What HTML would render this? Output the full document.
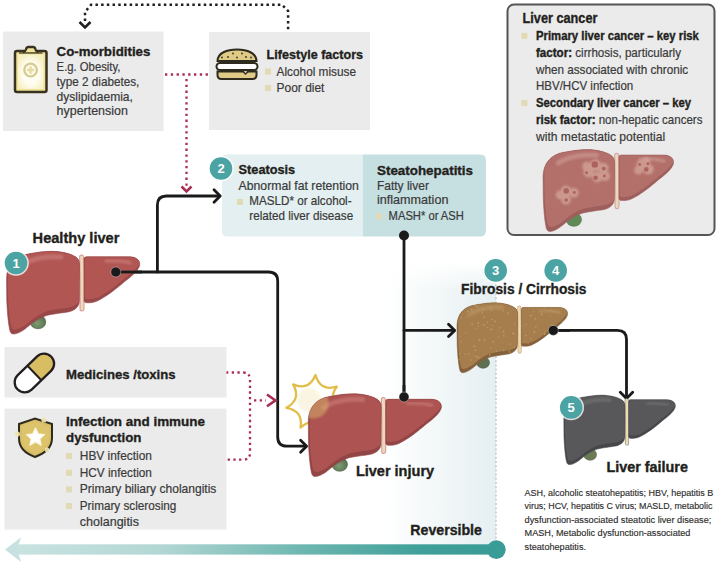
<!DOCTYPE html><html><head><meta charset="utf-8"><style>html,body{margin:0;padding:0;background:#fff;width:720px;height:573px;overflow:hidden}svg text{font-family:"Liberation Sans",sans-serif}</style></head><body><svg width="720" height="573" viewBox="0 0 720 573" style="display:block;font-family:'Liberation Sans',sans-serif">
<defs><linearGradient id="panel" x1="0" y1="0" x2="1" y2="0"><stop offset="0" stop-color="#ffffff"/><stop offset="1" stop-color="#e5eff1"/></linearGradient><linearGradient id="bar" x1="0" y1="0" x2="1" y2="0"><stop offset="0" stop-color="#c9e3e1"/><stop offset="0.3" stop-color="#b3d7d4"/><stop offset="0.6" stop-color="#6db6b0"/><stop offset="0.85" stop-color="#3f9f99"/><stop offset="1" stop-color="#3a9c96"/></linearGradient><filter id="blur" x="-50%" y="-50%" width="200%" height="200%"><feGaussianBlur stdDeviation="1.2"/></filter><radialGradient id="clipg" cx="0.5" cy="0.55" r="0.6"><stop offset="0.5" stop-color="#fffdf2"/><stop offset="1" stop-color="#f6efbf"/></radialGradient><radialGradient id="gbg" cx="0.45" cy="0.6" r="0.6"><stop offset="0" stop-color="#7d9c72"/><stop offset="1" stop-color="#566f4c"/></radialGradient><linearGradient id="pm" x1="0" y1="0" x2="0" y2="1"><stop offset="0" stop-color="#000"/><stop offset="0.1" stop-color="#fff"/><stop offset="1" stop-color="#fff"/></linearGradient><mask id="pmask" maskUnits="userSpaceOnUse" x="380" y="255" width="130" height="300"><rect x="380" y="262" width="130" height="290" fill="url(#pm)"/></mask></defs>
<rect width="720" height="573" fill="#ffffff"/>
<rect x="385" y="262" width="111" height="283" fill="url(#panel)" mask="url(#pmask)"/>
<line x1="496" y1="272" x2="496" y2="545" stroke="#bcc8cc" stroke-width="1.4" stroke-dasharray="2 2.2"/>
<rect x="3" y="31.5" width="160.5" height="99.5" fill="#ebebeb"/>
<rect x="209" y="32" width="161" height="98" fill="#ebebeb"/>
<path d="M85,21 L85,12 L91,4.8 L282,4.8 L288.1,11 L288.1,31" stroke="#231f20" stroke-width="2.5" fill="none" stroke-dasharray="2.5 3.2"/>
<path d="M79.5,22 L85,27.5 L90.5,22" stroke="#231f20" stroke-width="2.6" fill="none"/>
<path d="M165,74.5 L209,74.5" stroke="#aa2c52" stroke-width="2.3" fill="none" stroke-dasharray="2.3 3.5"/>
<path d="M186.5,79 L186.5,188" stroke="#aa2c52" stroke-width="2.3" fill="none" stroke-dasharray="2.3 3.5"/>
<path d="M181.5,186.5 L186.5,191.5 L191.5,186.5" stroke="#aa2c52" stroke-width="2.5" fill="none"/>
<g><rect x="15" y="51" width="31.5" height="41" rx="2" fill="#efe39a" stroke="#38321f" stroke-width="2.5"/><rect x="18" y="54.5" width="25.5" height="34.5" fill="url(#clipg)"/><path d="M23,52 Q25.5,51.5 26,49.5 Q26.3,47 28.5,47 L33,47 Q35.2,47 35.5,49.5 Q36,51.5 38.5,52" fill="#efe39a" stroke="#38321f" stroke-width="2.3" stroke-linejoin="round"/><path d="M19,53 L42.5,53" stroke="#38321f" stroke-width="1.2"/><circle cx="30.6" cy="70" r="6.3" fill="none" stroke="#d6cc92" stroke-width="2.3"/><path d="M30.6,66.3 L30.6,73.7 M26.9,70 L34.3,70" stroke="#e6dca0" stroke-width="2.4"/></g>
<text x="56.6" y="55.7" font-size="13.60" font-weight="bold" fill="#231f20" stroke="#231f20" stroke-width="0.35" textLength="93.8" lengthAdjust="spacingAndGlyphs">Co-morbidities</text>
<text x="56.6" y="71.1" font-size="11.90" font-weight="normal" fill="#3a3a3a" stroke="#3a3a3a" stroke-width="0.2" textLength="63.8" lengthAdjust="spacingAndGlyphs">E.g. Obesity,</text>
<text x="56.6" y="86.1" font-size="11.90" font-weight="normal" fill="#3a3a3a" stroke="#3a3a3a" stroke-width="0.2" textLength="82.8" lengthAdjust="spacingAndGlyphs">type 2 diabetes,</text>
<text x="56.6" y="101.1" font-size="11.90" font-weight="normal" fill="#3a3a3a" stroke="#3a3a3a" stroke-width="0.2" textLength="76.3" lengthAdjust="spacingAndGlyphs">dyslipidaemia,</text>
<text x="56.6" y="114.5" font-size="11.90" font-weight="normal" fill="#3a3a3a" stroke="#3a3a3a" stroke-width="0.2" textLength="71.3" lengthAdjust="spacingAndGlyphs">hypertension</text>
<g stroke="#2f2a1e" stroke-width="2"><path d="M217.5,61 C217.5,53 227,49.5 237,49.5 C247,49.5 256.5,53 256.5,61 Z" fill="#dfcb86"/><rect x="216.5" y="63" width="41" height="7" rx="3.5" fill="#ffffff"/><path d="M217.5,71.5 L256.5,71.5 L256.5,75 Q256.5,79 252.5,79 L221.5,79 Q217.5,79 217.5,75 Z" fill="#dfcb86"/><path d="M242,70.5 L245.5,74 L249,70.5 Z" fill="#ffffff" stroke-width="1.5"/></g><g fill="#3a3322"><circle cx="222" cy="57.5" r="0.9"/><circle cx="228" cy="57" r="0.9"/><circle cx="233" cy="53.5" r="0.9"/><circle cx="237" cy="57.5" r="0.9"/><circle cx="242" cy="53.5" r="0.9"/><circle cx="246" cy="57" r="0.9"/><circle cx="251" cy="57.5" r="0.9"/></g>
<text x="266.6" y="58.9" font-size="13.60" font-weight="bold" fill="#231f20" stroke="#231f20" stroke-width="0.35" textLength="96.5" lengthAdjust="spacingAndGlyphs">Lifestyle factors</text>
<rect x="265" y="68.5" width="6" height="6" fill="#e2dab4"/>
<text x="276.6" y="76.3" font-size="11.90" font-weight="normal" fill="#3a3a3a" stroke="#3a3a3a" stroke-width="0.2" textLength="79.4" lengthAdjust="spacingAndGlyphs">Alcohol misuse</text>
<rect x="265" y="85" width="6" height="6" fill="#e2dab4"/>
<text x="276.6" y="92.2" font-size="11.90" font-weight="normal" fill="#3a3a3a" stroke="#3a3a3a" stroke-width="0.2" textLength="47.8" lengthAdjust="spacingAndGlyphs">Poor diet</text>
<rect x="507.5" y="4.5" width="207" height="230.5" rx="6.5" fill="#ebebeb" stroke="#555555" stroke-width="2"/>
<text x="522.6" y="22.5" font-size="13.80" font-weight="bold" fill="#231f20" stroke="#231f20" stroke-width="0.35" textLength="74.8" lengthAdjust="spacingAndGlyphs">Liver cancer</text>
<rect x="521.4" y="32.8" width="6" height="6" fill="#e2dab4"/>
<text x="536.0" y="40.0" font-size="11.90" font-weight="bold" fill="#231f20" stroke="#231f20" stroke-width="0.35" textLength="162.9" lengthAdjust="spacingAndGlyphs">Primary liver cancer – key risk</text>
<text x="536.0" y="57.0" font-size="11.9" fill="#3a3a3a" stroke="#3a3a3a" stroke-width="0.2" textLength="145" lengthAdjust="spacingAndGlyphs"><tspan font-weight="bold" fill="#231f20" stroke="#231f20" stroke-width="0.35">factor:</tspan> cirrhosis, particularly</text>
<text x="536.0" y="73.5" font-size="11.90" font-weight="normal" fill="#3a3a3a" stroke="#3a3a3a" stroke-width="0.2" textLength="152.1" lengthAdjust="spacingAndGlyphs">when associated with chronic</text>
<text x="536.0" y="89.9" font-size="11.90" font-weight="normal" fill="#3a3a3a" stroke="#3a3a3a" stroke-width="0.2" textLength="97.2" lengthAdjust="spacingAndGlyphs">HBV/HCV infection</text>
<rect x="521.4" y="100" width="6" height="6" fill="#e2dab4"/>
<text x="536.0" y="107.2" font-size="11.90" font-weight="bold" fill="#231f20" stroke="#231f20" stroke-width="0.35" textLength="155.1" lengthAdjust="spacingAndGlyphs">Secondary liver cancer – key</text>
<text x="536.0" y="124.3" font-size="11.9" fill="#3a3a3a" stroke="#3a3a3a" stroke-width="0.2" textLength="166.4" lengthAdjust="spacingAndGlyphs"><tspan font-weight="bold" fill="#231f20" stroke="#231f20" stroke-width="0.35">risk factor:</tspan> non-hepatic cancers</text>
<text x="536.0" y="140.6" font-size="11.90" font-weight="normal" fill="#3a3a3a" stroke="#3a3a3a" stroke-width="0.2" textLength="129.1" lengthAdjust="spacingAndGlyphs">with metastatic potential</text>
<g transform="translate(542.5,149.3) scale(0.98,0.99)">
<clipPath id="cr1"><path d="M0.6,27 C0.8,15 8,5 22,3 C30,1.5 38,0.3 45,0.3 C56,0.3 66,3 70.5,6.5 C73,8.5 73.5,11 73.5,14 L73.3,50 C73.3,55 70,59 63,60.8 C56,62 46,63 40.5,64.5 C33,67 27,71 22,75.5 C18,79 12,83 7.5,83 C5,83 4,81 3.5,78 C2,70 1.2,60 0.8,50 Z"/></clipPath><clipPath id="cl1"><path d="M78,8 C78,6.5 79,5.8 80.5,5.8 L124,5.8 C131,6 134.5,10 133.6,14.5 C132,20 126,25 118,31 C110,38 100,46 90,50.5 C86,52 82,52 79.5,51.6 C78.5,51.4 78,50.5 78,49 Z"/></clipPath>
<ellipse cx="32" cy="71" rx="8" ry="7" fill="#5f8a58" stroke="#000" stroke-opacity="0.15" stroke-width="1"/>
<path d="M75.6,6 C76.2,20 76.2,40 76,58" stroke="#b3706b" stroke-width="5" fill="none" stroke-linecap="round" opacity="0.6"/>
<path d="M75.6,6 C76.2,20 76.2,40 76,58" stroke="#eed8bb" stroke-width="3" fill="none" stroke-linecap="round"/>
<path d="M0.6,27 C0.8,15 8,5 22,3 C30,1.5 38,0.3 45,0.3 C56,0.3 66,3 70.5,6.5 C73,8.5 73.5,11 73.5,14 L73.3,50 C73.3,55 70,59 63,60.8 C56,62 46,63 40.5,64.5 C33,67 27,71 22,75.5 C18,79 12,83 7.5,83 C5,83 4,81 3.5,78 C2,70 1.2,60 0.8,50 Z" fill="#9e5f5c"/><path d="M78,8 C78,6.5 79,5.8 80.5,5.8 L124,5.8 C131,6 134.5,10 133.6,14.5 C132,20 126,25 118,31 C110,38 100,46 90,50.5 C86,52 82,52 79.5,51.6 C78.5,51.4 78,50.5 78,49 Z" fill="#9e5f5c"/>
<g clip-path="url(#cr1)"><path d="M0.6,27 C0.8,15 8,5 22,3 C30,1.5 38,0.3 45,0.3 C56,0.3 66,3 70.5,6.5 C73,8.5 73.5,11 73.5,14 L73.3,50 C73.3,55 70,59 63,60.8 C56,62 46,63 40.5,64.5 C33,67 27,71 22,75.5 C18,79 12,83 7.5,83 C5,83 4,81 3.5,78 C2,70 1.2,60 0.8,50 Z" fill="#b3706b" transform="translate(1.2,-4.5)"/><path d="M16,14 C28,6 45,5 55,6" stroke="#d4a09a" stroke-width="5" fill="none" stroke-linecap="round" opacity="0.55" filter="url(#blur)"/></g>
<g clip-path="url(#cl1)"><path d="M78,8 C78,6.5 79,5.8 80.5,5.8 L124,5.8 C131,6 134.5,10 133.6,14.5 C132,20 126,25 118,31 C110,38 100,46 90,50.5 C86,52 82,52 79.5,51.6 C78.5,51.4 78,50.5 78,49 Z" fill="#b3706b" transform="translate(0.5,-3.5)"/><path d="M100,10 C110,9.5 118,10 124,12" stroke="#d4a09a" stroke-width="3.5" fill="none" stroke-linecap="round" opacity="0.55" filter="url(#blur)"/></g>
<path d="M0.6,27 C0.8,15 8,5 22,3 C30,1.5 38,0.3 45,0.3 C56,0.3 66,3 70.5,6.5 C73,8.5 73.5,11 73.5,14 L73.3,50 C73.3,55 70,59 63,60.8 C56,62 46,63 40.5,64.5 C33,67 27,71 22,75.5 C18,79 12,83 7.5,83 C5,83 4,81 3.5,78 C2,70 1.2,60 0.8,50 Z" fill="none" stroke="#9e5f5c" stroke-width="1" stroke-opacity="0.6"/><path d="M78,8 C78,6.5 79,5.8 80.5,5.8 L124,5.8 C131,6 134.5,10 133.6,14.5 C132,20 126,25 118,31 C110,38 100,46 90,50.5 C86,52 82,52 79.5,51.6 C78.5,51.4 78,50.5 78,49 Z" fill="none" stroke="#9e5f5c" stroke-width="1" stroke-opacity="0.6"/>

<g filter="url(#blur)"><g fill="#d2a398" opacity="0.8"><circle cx="54" cy="16" r="6"/><circle cx="62" cy="19" r="5.5"/><circle cx="47" cy="23" r="5.5"/><circle cx="56" cy="28" r="5.5"/><circle cx="64" cy="27" r="5"/><circle cx="45" cy="17" r="4.5"/><circle cx="24" cy="42" r="5.5"/><circle cx="32" cy="44" r="5"/><circle cx="24" cy="51" r="5"/><circle cx="18" cy="46" r="4.5"/><circle cx="101" cy="15" r="5"/><circle cx="108" cy="20" r="5.5"/><circle cx="98" cy="21" r="4.5"/><circle cx="106" cy="12" r="4"/></g></g><g fill="#a65553" opacity="0.8"><circle cx="53.4" cy="15.4" r="3.3"/><circle cx="62.5" cy="19.5" r="2"/><circle cx="54.2" cy="28.7" r="2.3"/><circle cx="45" cy="23.7" r="1.5"/><circle cx="63.2" cy="27" r="1.5"/><circle cx="24.2" cy="42" r="2.8"/><circle cx="32.5" cy="43.7" r="1.5"/><circle cx="24.2" cy="51.2" r="1.8"/><circle cx="105.9" cy="20.4" r="2.4"/><circle cx="99.2" cy="15.4" r="1.5"/><circle cx="107.5" cy="14.5" r="1.5"/></g>
</g>
<path d="M227,154.5 L363,154.5 L363,236.5 L227,236.5 Q222,236.5 222,231.5 L222,159.5 Q222,154.5 227,154.5 Z" fill="#e3eff0"/>
<path d="M363,154.5 L480,154.5 Q486,154.5 486,160.5 L486,230.5 Q486,236.5 480,236.5 L363,236.5 Z" fill="#c6dfe1"/>
<circle cx="221" cy="168.5" r="12.8" fill="#ffffff" opacity="0.8"/>
<circle cx="221" cy="168.5" r="11.3" fill="#4ba3a3"/>
<text x="221" y="173.1" font-size="13" font-weight="bold" fill="#ffffff" text-anchor="middle">2</text>
<text x="238.6" y="174.4" font-size="13.60" font-weight="bold" fill="#231f20" stroke="#231f20" stroke-width="0.35" textLength="56.6" lengthAdjust="spacingAndGlyphs">Steatosis</text>
<text x="238.6" y="189.7" font-size="11.90" font-weight="normal" fill="#3a3a3a" stroke="#3a3a3a" stroke-width="0.2" textLength="120.3" lengthAdjust="spacingAndGlyphs">Abnormal fat retention</text>
<rect x="237" y="199" width="6" height="6" fill="#e2dab4"/>
<text x="249.3" y="205.3" font-size="11.90" font-weight="normal" fill="#3a3a3a" stroke="#3a3a3a" stroke-width="0.2" textLength="102.3" lengthAdjust="spacingAndGlyphs">MASLD* or alcohol-</text>
<text x="249.3" y="220.2" font-size="11.90" font-weight="normal" fill="#3a3a3a" stroke="#3a3a3a" stroke-width="0.2" textLength="103.9" lengthAdjust="spacingAndGlyphs">related liver disease</text>
<text x="377.0" y="174.7" font-size="13.60" font-weight="bold" fill="#231f20" stroke="#231f20" stroke-width="0.35" textLength="96.0" lengthAdjust="spacingAndGlyphs">Steatohepatitis</text>
<text x="377.0" y="190.2" font-size="11.90" font-weight="normal" fill="#3a3a3a" stroke="#3a3a3a" stroke-width="0.2" textLength="51.9" lengthAdjust="spacingAndGlyphs">Fatty liver</text>
<text x="377.0" y="204.3" font-size="11.90" font-weight="normal" fill="#3a3a3a" stroke="#3a3a3a" stroke-width="0.2" textLength="71.4" lengthAdjust="spacingAndGlyphs">inflammation</text>
<rect x="376" y="213.5" width="6" height="6" fill="#e2dab4"/>
<text x="388.6" y="220.3" font-size="11.90" font-weight="normal" fill="#3a3a3a" stroke="#3a3a3a" stroke-width="0.2" textLength="75.3" lengthAdjust="spacingAndGlyphs">MASH* or ASH</text>
<path d="M116.7,272 L268.5,272 Q277.7,272 277.7,281 L277.7,437 Q277.7,446.2 287,446.2 L305.5,446.2" stroke="#1a1a1a" stroke-width="2.8" fill="none" stroke-linejoin="round" stroke-linecap="round"/>
<path d="M300.6,440.2 L306.6,446.2 L300.6,452.2" stroke="#1a1a1a" stroke-width="2.8" fill="none" stroke-linejoin="round" stroke-linecap="round"/>
<path d="M157.4,272 L157.4,205 Q157.4,196 166.4,196 L219,196" stroke="#1a1a1a" stroke-width="2.8" fill="none" stroke-linejoin="round" stroke-linecap="round"/>
<path d="M214,189.8 L220.2,196 L214,202.2" stroke="#1a1a1a" stroke-width="2.8" fill="none" stroke-linejoin="round" stroke-linecap="round"/>
<path d="M404,236 L404,397" stroke="#1a1a1a" stroke-width="2.8" fill="none" stroke-linejoin="round" stroke-linecap="round"/>
<circle cx="404" cy="235.5" r="5" fill="#1a1a1a"/>
<path d="M404,330.4 L454,330.4" stroke="#1a1a1a" stroke-width="2.8" fill="none" stroke-linejoin="round" stroke-linecap="round"/>
<path d="M448.5,324.2 L454.7,330.4 L448.5,336.6" stroke="#1a1a1a" stroke-width="2.8" fill="none" stroke-linejoin="round" stroke-linecap="round"/>
<path d="M553,330.4 L617.5,330.4 Q626.5,330.4 626.5,339.4 L626.5,398" stroke="#1a1a1a" stroke-width="2.8" fill="none" stroke-linejoin="round" stroke-linecap="round"/>
<path d="M620.3,392.3 L626.5,398.5 L632.7,392.3" stroke="#1a1a1a" stroke-width="2.8" fill="none" stroke-linejoin="round" stroke-linecap="round"/>
<path d="M226,372.5 L243,372.5 Q250,372.5 250,379.5 L250,452.7 Q250,459.7 243,459.7 L226,459.7" stroke="#aa2c52" stroke-width="2.3" fill="none" stroke-dasharray="2.3 3.4"/>
<path d="M254,400.4 L266,400.4" stroke="#aa2c52" stroke-width="2.3" fill="none" stroke-dasharray="2.3 3.4"/>
<path d="M267,394.5 L275.5,400.4 L267,406.3" stroke="#aa2c52" stroke-width="2.6" fill="none"/>
<text x="32.6" y="242.6" font-size="14.00" font-weight="bold" fill="#231f20" stroke="#231f20" stroke-width="0.35" textLength="86.8" lengthAdjust="spacingAndGlyphs">Healthy liver</text>
<g transform="translate(6,251) scale(1.0,1.0)">
<clipPath id="cr2"><path d="M0.6,27 C0.8,15 8,5 22,3 C30,1.5 38,0.3 45,0.3 C56,0.3 66,3 70.5,6.5 C73,8.5 73.5,11 73.5,14 L73.3,50 C73.3,55 70,59 63,60.8 C56,62 46,63 40.5,64.5 C33,67 27,71 22,75.5 C18,79 12,83 7.5,83 C5,83 4,81 3.5,78 C2,70 1.2,60 0.8,50 Z"/></clipPath><clipPath id="cl2"><path d="M78,8 C78,6.5 79,5.8 80.5,5.8 L124,5.8 C131,6 134.5,10 133.6,14.5 C132,20 126,25 118,31 C110,38 100,46 90,50.5 C86,52 82,52 79.5,51.6 C78.5,51.4 78,50.5 78,49 Z"/></clipPath>
<ellipse cx="32" cy="71" rx="8" ry="7" fill="url(#gbg)" stroke="#000" stroke-opacity="0.15" stroke-width="1"/>
<path d="M75.6,6 C76.2,20 76.2,40 76,58" stroke="#b25654" stroke-width="5" fill="none" stroke-linecap="round" opacity="0.6"/>
<path d="M75.6,6 C76.2,20 76.2,40 76,58" stroke="#eed8bb" stroke-width="3" fill="none" stroke-linecap="round"/>
<path d="M0.6,27 C0.8,15 8,5 22,3 C30,1.5 38,0.3 45,0.3 C56,0.3 66,3 70.5,6.5 C73,8.5 73.5,11 73.5,14 L73.3,50 C73.3,55 70,59 63,60.8 C56,62 46,63 40.5,64.5 C33,67 27,71 22,75.5 C18,79 12,83 7.5,83 C5,83 4,81 3.5,78 C2,70 1.2,60 0.8,50 Z" fill="#984848"/><path d="M78,8 C78,6.5 79,5.8 80.5,5.8 L124,5.8 C131,6 134.5,10 133.6,14.5 C132,20 126,25 118,31 C110,38 100,46 90,50.5 C86,52 82,52 79.5,51.6 C78.5,51.4 78,50.5 78,49 Z" fill="#984848"/>
<g clip-path="url(#cr2)"><path d="M0.6,27 C0.8,15 8,5 22,3 C30,1.5 38,0.3 45,0.3 C56,0.3 66,3 70.5,6.5 C73,8.5 73.5,11 73.5,14 L73.3,50 C73.3,55 70,59 63,60.8 C56,62 46,63 40.5,64.5 C33,67 27,71 22,75.5 C18,79 12,83 7.5,83 C5,83 4,81 3.5,78 C2,70 1.2,60 0.8,50 Z" fill="#b25654" transform="translate(1.2,-4.5)"/><path d="M16,14 C28,6 45,5 55,6" stroke="#d08884" stroke-width="5" fill="none" stroke-linecap="round" opacity="0.55" filter="url(#blur)"/></g>
<g clip-path="url(#cl2)"><path d="M78,8 C78,6.5 79,5.8 80.5,5.8 L124,5.8 C131,6 134.5,10 133.6,14.5 C132,20 126,25 118,31 C110,38 100,46 90,50.5 C86,52 82,52 79.5,51.6 C78.5,51.4 78,50.5 78,49 Z" fill="#b25654" transform="translate(0.5,-3.5)"/><path d="M100,10 C110,9.5 118,10 124,12" stroke="#d08884" stroke-width="3.5" fill="none" stroke-linecap="round" opacity="0.55" filter="url(#blur)"/></g>
<path d="M0.6,27 C0.8,15 8,5 22,3 C30,1.5 38,0.3 45,0.3 C56,0.3 66,3 70.5,6.5 C73,8.5 73.5,11 73.5,14 L73.3,50 C73.3,55 70,59 63,60.8 C56,62 46,63 40.5,64.5 C33,67 27,71 22,75.5 C18,79 12,83 7.5,83 C5,83 4,81 3.5,78 C2,70 1.2,60 0.8,50 Z" fill="none" stroke="#984848" stroke-width="1" stroke-opacity="0.6"/><path d="M78,8 C78,6.5 79,5.8 80.5,5.8 L124,5.8 C131,6 134.5,10 133.6,14.5 C132,20 126,25 118,31 C110,38 100,46 90,50.5 C86,52 82,52 79.5,51.6 C78.5,51.4 78,50.5 78,49 Z" fill="none" stroke="#984848" stroke-width="1" stroke-opacity="0.6"/>


</g>
<path d="M116,272 L142,272" stroke="#1a1a1a" stroke-width="2.8"/>
<circle cx="115.8" cy="272" r="5" fill="#1a1a1a" stroke="#ffffff" stroke-opacity="0.35" stroke-width="1"/>
<circle cx="16" cy="263" r="12.8" fill="#ffffff" opacity="0.8"/>
<circle cx="16" cy="263" r="11.3" fill="#4ba3a3"/>
<text x="16" y="267.6" font-size="13" font-weight="bold" fill="#ffffff" text-anchor="middle">1</text>
<circle cx="495.7" cy="270.4" r="12.8" fill="#ffffff" opacity="0.8"/>
<circle cx="495.7" cy="270.4" r="11.3" fill="#4ba3a3"/>
<text x="495.7" y="275.0" font-size="13" font-weight="bold" fill="#ffffff" text-anchor="middle">3</text>
<circle cx="555.7" cy="270.4" r="12.8" fill="#ffffff" opacity="0.8"/>
<circle cx="555.7" cy="270.4" r="11.3" fill="#4ba3a3"/>
<text x="555.7" y="275.0" font-size="13" font-weight="bold" fill="#ffffff" text-anchor="middle">4</text>
<text x="461.1" y="294.3" font-size="14.00" font-weight="bold" fill="#231f20" stroke="#231f20" stroke-width="0.35" textLength="125.3" lengthAdjust="spacingAndGlyphs">Fibrosis / Cirrhosis</text>
<g transform="translate(456.5,302.5) scale(0.831,0.846)">
<clipPath id="cr3"><path d="M0.6,27 C0.8,15 8,5 22,3 C30,1.5 38,0.3 45,0.3 C56,0.3 66,3 70.5,6.5 C73,8.5 73.5,11 73.5,14 L73.3,50 C73.3,55 70,59 63,60.8 C56,62 46,63 40.5,64.5 C33,67 27,71 22,75.5 C18,79 12,83 7.5,83 C5,83 4,81 3.5,78 C2,70 1.2,60 0.8,50 Z"/></clipPath><clipPath id="cl3"><path d="M78,8 C78,6.5 79,5.8 80.5,5.8 L124,5.8 C131,6 134.5,10 133.6,14.5 C132,20 126,25 118,31 C110,38 100,46 90,50.5 C86,52 82,52 79.5,51.6 C78.5,51.4 78,50.5 78,49 Z"/></clipPath>
<ellipse cx="32" cy="71" rx="8" ry="7" fill="#5f6f52" stroke="#000" stroke-opacity="0.15" stroke-width="1"/>
<path d="M75.6,6 C76.2,20 76.2,40 76,58" stroke="#a67e4d" stroke-width="5" fill="none" stroke-linecap="round" opacity="0.6"/>
<path d="M75.6,6 C76.2,20 76.2,40 76,58" stroke="#efd9aa" stroke-width="3" fill="none" stroke-linecap="round"/>
<path d="M0.6,27 C0.8,15 8,5 22,3 C30,1.5 38,0.3 45,0.3 C56,0.3 66,3 70.5,6.5 C73,8.5 73.5,11 73.5,14 L73.3,50 C73.3,55 70,59 63,60.8 C56,62 46,63 40.5,64.5 C33,67 27,71 22,75.5 C18,79 12,83 7.5,83 C5,83 4,81 3.5,78 C2,70 1.2,60 0.8,50 Z" fill="#84613a"/><path d="M78,8 C78,6.5 79,5.8 80.5,5.8 L124,5.8 C131,6 134.5,10 133.6,14.5 C132,20 126,25 118,31 C110,38 100,46 90,50.5 C86,52 82,52 79.5,51.6 C78.5,51.4 78,50.5 78,49 Z" fill="#84613a"/>
<g clip-path="url(#cr3)"><path d="M0.6,27 C0.8,15 8,5 22,3 C30,1.5 38,0.3 45,0.3 C56,0.3 66,3 70.5,6.5 C73,8.5 73.5,11 73.5,14 L73.3,50 C73.3,55 70,59 63,60.8 C56,62 46,63 40.5,64.5 C33,67 27,71 22,75.5 C18,79 12,83 7.5,83 C5,83 4,81 3.5,78 C2,70 1.2,60 0.8,50 Z" fill="#a67e4d" transform="translate(1.2,-4.5)"/><path d="M16,14 C28,6 45,5 55,6" stroke="#c09c6c" stroke-width="5" fill="none" stroke-linecap="round" opacity="0.55" filter="url(#blur)"/></g>
<g clip-path="url(#cl3)"><path d="M78,8 C78,6.5 79,5.8 80.5,5.8 L124,5.8 C131,6 134.5,10 133.6,14.5 C132,20 126,25 118,31 C110,38 100,46 90,50.5 C86,52 82,52 79.5,51.6 C78.5,51.4 78,50.5 78,49 Z" fill="#a67e4d" transform="translate(0.5,-3.5)"/><path d="M100,10 C110,9.5 118,10 124,12" stroke="#c09c6c" stroke-width="3.5" fill="none" stroke-linecap="round" opacity="0.55" filter="url(#blur)"/></g>
<path d="M0.6,27 C0.8,15 8,5 22,3 C30,1.5 38,0.3 45,0.3 C56,0.3 66,3 70.5,6.5 C73,8.5 73.5,11 73.5,14 L73.3,50 C73.3,55 70,59 63,60.8 C56,62 46,63 40.5,64.5 C33,67 27,71 22,75.5 C18,79 12,83 7.5,83 C5,83 4,81 3.5,78 C2,70 1.2,60 0.8,50 Z" fill="none" stroke="#84613a" stroke-width="1" stroke-opacity="0.6"/><path d="M78,8 C78,6.5 79,5.8 80.5,5.8 L124,5.8 C131,6 134.5,10 133.6,14.5 C132,20 126,25 118,31 C110,38 100,46 90,50.5 C86,52 82,52 79.5,51.6 C78.5,51.4 78,50.5 78,49 Z" fill="none" stroke="#84613a" stroke-width="1" stroke-opacity="0.6"/>

<g clip-path="url(#cr3)"><g fill="#c4a575" opacity="0.75"><circle cx="32.9" cy="44.9" r="0.7"/><circle cx="80.5" cy="51.2" r="0.5"/><circle cx="3.7" cy="67.5" r="0.7"/><circle cx="32.5" cy="79.7" r="0.8"/><circle cx="110.7" cy="39.7" r="0.9"/><circle cx="21.6" cy="51.9" r="1.0"/><circle cx="70.0" cy="60.1" r="0.9"/><circle cx="10.3" cy="61.4" r="0.9"/><circle cx="41.2" cy="5.4" r="1.0"/><circle cx="63.5" cy="58.3" r="1.0"/><circle cx="94.8" cy="73.9" r="0.7"/><circle cx="106.1" cy="37.2" r="1.1"/><circle cx="116.3" cy="10.5" r="0.6"/><circle cx="30.2" cy="77.3" r="0.8"/><circle cx="83.5" cy="26.2" r="0.8"/><circle cx="52.2" cy="30.0" r="0.9"/><circle cx="78.0" cy="72.6" r="0.9"/><circle cx="122.8" cy="68.9" r="1.1"/><circle cx="89.3" cy="15.6" r="1.0"/><circle cx="127.4" cy="72.7" r="0.8"/><circle cx="94.8" cy="19.3" r="1.0"/><circle cx="76.6" cy="24.9" r="0.5"/><circle cx="113.0" cy="79.2" r="0.6"/><circle cx="106.1" cy="34.6" r="0.6"/><circle cx="40.2" cy="62.2" r="1.0"/><circle cx="7.7" cy="50.3" r="0.5"/><circle cx="95.4" cy="28.5" r="1.0"/><circle cx="129.5" cy="41.9" r="1.1"/><circle cx="42.3" cy="8.9" r="0.9"/><circle cx="6.1" cy="18.2" r="0.7"/><circle cx="81.4" cy="15.0" r="0.5"/><circle cx="114.8" cy="27.2" r="1.1"/><circle cx="118.6" cy="32.1" r="0.8"/><circle cx="69.6" cy="52.6" r="0.9"/><circle cx="74.7" cy="50.7" r="1.1"/><circle cx="67.9" cy="36.2" r="0.9"/><circle cx="32.9" cy="26.2" r="1.1"/><circle cx="69.7" cy="45.2" r="0.5"/><circle cx="56.0" cy="47.7" r="0.5"/><circle cx="82.1" cy="51.7" r="0.5"/><circle cx="83.6" cy="38.9" r="0.9"/><circle cx="47.8" cy="57.4" r="0.9"/><circle cx="4.9" cy="7.7" r="0.9"/><circle cx="127.2" cy="22.3" r="0.8"/><circle cx="79.0" cy="27.6" r="0.7"/><circle cx="42.6" cy="31.4" r="0.9"/><circle cx="41.1" cy="32.0" r="1.0"/><circle cx="5.5" cy="46.8" r="0.9"/><circle cx="42.3" cy="20.1" r="1.0"/><circle cx="33.0" cy="17.4" r="0.8"/><circle cx="92.7" cy="10.8" r="0.7"/><circle cx="45.4" cy="67.2" r="0.8"/><circle cx="113.2" cy="16.0" r="0.7"/><circle cx="86.5" cy="71.1" r="0.8"/><circle cx="31.3" cy="12.3" r="0.8"/><circle cx="26.8" cy="65.1" r="1.0"/><circle cx="25.9" cy="24.5" r="1.0"/><circle cx="85.5" cy="65.1" r="0.7"/><circle cx="18.9" cy="25.5" r="1.0"/><circle cx="37.3" cy="29.7" r="0.8"/><circle cx="56.6" cy="34.5" r="1.1"/><circle cx="22.3" cy="3.4" r="1.1"/><circle cx="116.4" cy="79.0" r="0.8"/><circle cx="125.5" cy="74.4" r="0.6"/><circle cx="98.9" cy="67.4" r="0.9"/><circle cx="69.5" cy="25.3" r="0.7"/><circle cx="31.6" cy="8.2" r="0.9"/><circle cx="39.3" cy="65.4" r="0.5"/><circle cx="119.5" cy="56.4" r="1.1"/><circle cx="118.6" cy="72.3" r="0.8"/><circle cx="3.7" cy="60.4" r="0.6"/><circle cx="41.0" cy="54.0" r="0.8"/><circle cx="55.8" cy="75.3" r="0.9"/><circle cx="46.4" cy="22.4" r="1.0"/><circle cx="64.0" cy="63.2" r="0.7"/><circle cx="27.7" cy="44.2" r="1.0"/><circle cx="24.3" cy="64.0" r="1.1"/><circle cx="106.8" cy="66.4" r="0.5"/><circle cx="83.7" cy="69.4" r="0.5"/><circle cx="37.3" cy="23.7" r="0.8"/><circle cx="57.0" cy="39.4" r="1.0"/><circle cx="2.2" cy="7.2" r="0.6"/><circle cx="18.2" cy="8.3" r="1.1"/><circle cx="113.1" cy="9.6" r="0.8"/><circle cx="43.1" cy="27.2" r="0.7"/><circle cx="86.1" cy="48.2" r="0.7"/><circle cx="26.8" cy="28.3" r="0.6"/><circle cx="74.2" cy="58.1" r="0.7"/><circle cx="12.4" cy="16.7" r="0.7"/><circle cx="80.6" cy="63.3" r="0.7"/><circle cx="106.2" cy="51.0" r="0.8"/><circle cx="50.4" cy="41.2" r="0.9"/><circle cx="56.7" cy="56.4" r="0.8"/><circle cx="33.9" cy="44.3" r="0.9"/><circle cx="11.3" cy="35.7" r="0.8"/><circle cx="116.4" cy="75.1" r="0.7"/><circle cx="118.7" cy="63.9" r="0.7"/><circle cx="62.3" cy="12.5" r="1.0"/><circle cx="88.1" cy="71.3" r="1.0"/><circle cx="88.8" cy="59.5" r="0.8"/><circle cx="15.4" cy="48.3" r="0.5"/><circle cx="20.7" cy="62.6" r="0.5"/><circle cx="13.9" cy="10.6" r="1.0"/><circle cx="25.3" cy="4.8" r="1.0"/><circle cx="17.8" cy="68.0" r="0.9"/><circle cx="110.7" cy="76.3" r="0.8"/><circle cx="105.8" cy="5.8" r="1.0"/><circle cx="68.5" cy="58.1" r="0.6"/><circle cx="99.4" cy="75.0" r="0.5"/><circle cx="44.2" cy="46.4" r="1.0"/><circle cx="33.5" cy="16.8" r="0.6"/><circle cx="82.1" cy="61.0" r="0.7"/><circle cx="49.8" cy="33.5" r="0.7"/><circle cx="56.4" cy="9.4" r="0.8"/><circle cx="128.5" cy="34.8" r="0.9"/><circle cx="22.9" cy="56.2" r="1.0"/><circle cx="89.6" cy="42.8" r="0.8"/><circle cx="85.6" cy="72.1" r="0.6"/><circle cx="14.5" cy="60.6" r="1.0"/><circle cx="69.2" cy="37.1" r="0.9"/><circle cx="26.2" cy="23.6" r="0.6"/><circle cx="78.1" cy="27.2" r="0.6"/><circle cx="91.8" cy="76.4" r="0.7"/><circle cx="93.7" cy="34.8" r="1.0"/><circle cx="78.0" cy="23.6" r="0.6"/><circle cx="5.0" cy="39.9" r="0.7"/><circle cx="24.4" cy="30.8" r="0.7"/><circle cx="102.6" cy="14.1" r="1.1"/><circle cx="64.3" cy="49.1" r="0.8"/><circle cx="110.5" cy="66.3" r="0.8"/></g></g><g clip-path="url(#cl3)"><g fill="#c4a575" opacity="0.75"><circle cx="32.9" cy="44.9" r="0.7"/><circle cx="80.5" cy="51.2" r="0.5"/><circle cx="3.7" cy="67.5" r="0.7"/><circle cx="32.5" cy="79.7" r="0.8"/><circle cx="110.7" cy="39.7" r="0.9"/><circle cx="21.6" cy="51.9" r="1.0"/><circle cx="70.0" cy="60.1" r="0.9"/><circle cx="10.3" cy="61.4" r="0.9"/><circle cx="41.2" cy="5.4" r="1.0"/><circle cx="63.5" cy="58.3" r="1.0"/><circle cx="94.8" cy="73.9" r="0.7"/><circle cx="106.1" cy="37.2" r="1.1"/><circle cx="116.3" cy="10.5" r="0.6"/><circle cx="30.2" cy="77.3" r="0.8"/><circle cx="83.5" cy="26.2" r="0.8"/><circle cx="52.2" cy="30.0" r="0.9"/><circle cx="78.0" cy="72.6" r="0.9"/><circle cx="122.8" cy="68.9" r="1.1"/><circle cx="89.3" cy="15.6" r="1.0"/><circle cx="127.4" cy="72.7" r="0.8"/><circle cx="94.8" cy="19.3" r="1.0"/><circle cx="76.6" cy="24.9" r="0.5"/><circle cx="113.0" cy="79.2" r="0.6"/><circle cx="106.1" cy="34.6" r="0.6"/><circle cx="40.2" cy="62.2" r="1.0"/><circle cx="7.7" cy="50.3" r="0.5"/><circle cx="95.4" cy="28.5" r="1.0"/><circle cx="129.5" cy="41.9" r="1.1"/><circle cx="42.3" cy="8.9" r="0.9"/><circle cx="6.1" cy="18.2" r="0.7"/><circle cx="81.4" cy="15.0" r="0.5"/><circle cx="114.8" cy="27.2" r="1.1"/><circle cx="118.6" cy="32.1" r="0.8"/><circle cx="69.6" cy="52.6" r="0.9"/><circle cx="74.7" cy="50.7" r="1.1"/><circle cx="67.9" cy="36.2" r="0.9"/><circle cx="32.9" cy="26.2" r="1.1"/><circle cx="69.7" cy="45.2" r="0.5"/><circle cx="56.0" cy="47.7" r="0.5"/><circle cx="82.1" cy="51.7" r="0.5"/><circle cx="83.6" cy="38.9" r="0.9"/><circle cx="47.8" cy="57.4" r="0.9"/><circle cx="4.9" cy="7.7" r="0.9"/><circle cx="127.2" cy="22.3" r="0.8"/><circle cx="79.0" cy="27.6" r="0.7"/><circle cx="42.6" cy="31.4" r="0.9"/><circle cx="41.1" cy="32.0" r="1.0"/><circle cx="5.5" cy="46.8" r="0.9"/><circle cx="42.3" cy="20.1" r="1.0"/><circle cx="33.0" cy="17.4" r="0.8"/><circle cx="92.7" cy="10.8" r="0.7"/><circle cx="45.4" cy="67.2" r="0.8"/><circle cx="113.2" cy="16.0" r="0.7"/><circle cx="86.5" cy="71.1" r="0.8"/><circle cx="31.3" cy="12.3" r="0.8"/><circle cx="26.8" cy="65.1" r="1.0"/><circle cx="25.9" cy="24.5" r="1.0"/><circle cx="85.5" cy="65.1" r="0.7"/><circle cx="18.9" cy="25.5" r="1.0"/><circle cx="37.3" cy="29.7" r="0.8"/><circle cx="56.6" cy="34.5" r="1.1"/><circle cx="22.3" cy="3.4" r="1.1"/><circle cx="116.4" cy="79.0" r="0.8"/><circle cx="125.5" cy="74.4" r="0.6"/><circle cx="98.9" cy="67.4" r="0.9"/><circle cx="69.5" cy="25.3" r="0.7"/><circle cx="31.6" cy="8.2" r="0.9"/><circle cx="39.3" cy="65.4" r="0.5"/><circle cx="119.5" cy="56.4" r="1.1"/><circle cx="118.6" cy="72.3" r="0.8"/><circle cx="3.7" cy="60.4" r="0.6"/><circle cx="41.0" cy="54.0" r="0.8"/><circle cx="55.8" cy="75.3" r="0.9"/><circle cx="46.4" cy="22.4" r="1.0"/><circle cx="64.0" cy="63.2" r="0.7"/><circle cx="27.7" cy="44.2" r="1.0"/><circle cx="24.3" cy="64.0" r="1.1"/><circle cx="106.8" cy="66.4" r="0.5"/><circle cx="83.7" cy="69.4" r="0.5"/><circle cx="37.3" cy="23.7" r="0.8"/><circle cx="57.0" cy="39.4" r="1.0"/><circle cx="2.2" cy="7.2" r="0.6"/><circle cx="18.2" cy="8.3" r="1.1"/><circle cx="113.1" cy="9.6" r="0.8"/><circle cx="43.1" cy="27.2" r="0.7"/><circle cx="86.1" cy="48.2" r="0.7"/><circle cx="26.8" cy="28.3" r="0.6"/><circle cx="74.2" cy="58.1" r="0.7"/><circle cx="12.4" cy="16.7" r="0.7"/><circle cx="80.6" cy="63.3" r="0.7"/><circle cx="106.2" cy="51.0" r="0.8"/><circle cx="50.4" cy="41.2" r="0.9"/><circle cx="56.7" cy="56.4" r="0.8"/><circle cx="33.9" cy="44.3" r="0.9"/><circle cx="11.3" cy="35.7" r="0.8"/><circle cx="116.4" cy="75.1" r="0.7"/><circle cx="118.7" cy="63.9" r="0.7"/><circle cx="62.3" cy="12.5" r="1.0"/><circle cx="88.1" cy="71.3" r="1.0"/><circle cx="88.8" cy="59.5" r="0.8"/><circle cx="15.4" cy="48.3" r="0.5"/><circle cx="20.7" cy="62.6" r="0.5"/><circle cx="13.9" cy="10.6" r="1.0"/><circle cx="25.3" cy="4.8" r="1.0"/><circle cx="17.8" cy="68.0" r="0.9"/><circle cx="110.7" cy="76.3" r="0.8"/><circle cx="105.8" cy="5.8" r="1.0"/><circle cx="68.5" cy="58.1" r="0.6"/><circle cx="99.4" cy="75.0" r="0.5"/><circle cx="44.2" cy="46.4" r="1.0"/><circle cx="33.5" cy="16.8" r="0.6"/><circle cx="82.1" cy="61.0" r="0.7"/><circle cx="49.8" cy="33.5" r="0.7"/><circle cx="56.4" cy="9.4" r="0.8"/><circle cx="128.5" cy="34.8" r="0.9"/><circle cx="22.9" cy="56.2" r="1.0"/><circle cx="89.6" cy="42.8" r="0.8"/><circle cx="85.6" cy="72.1" r="0.6"/><circle cx="14.5" cy="60.6" r="1.0"/><circle cx="69.2" cy="37.1" r="0.9"/><circle cx="26.2" cy="23.6" r="0.6"/><circle cx="78.1" cy="27.2" r="0.6"/><circle cx="91.8" cy="76.4" r="0.7"/><circle cx="93.7" cy="34.8" r="1.0"/><circle cx="78.0" cy="23.6" r="0.6"/><circle cx="5.0" cy="39.9" r="0.7"/><circle cx="24.4" cy="30.8" r="0.7"/><circle cx="102.6" cy="14.1" r="1.1"/><circle cx="64.3" cy="49.1" r="0.8"/><circle cx="110.5" cy="66.3" r="0.8"/></g></g>
</g>
<path d="M553,330.4 L570,330.4" stroke="#1a1a1a" stroke-width="2.8"/>
<circle cx="553.3" cy="330.4" r="5" fill="#1a1a1a" stroke="#ffffff" stroke-opacity="0.35" stroke-width="1"/>
<circle cx="309" cy="400" r="12" fill="#f6f0cf" opacity="0.6" filter="url(#blur)"/>
<path d="M315.5,375.0 Q320.2,391.6 336.8,386.7 Q326.8,400.8 340.9,410.7 Q323.7,411.6 324.8,428.8 Q313.3,416.0 300.5,427.6 Q303.4,410.6 286.4,407.8 Q301.5,399.4 293.1,384.4 Q309.0,391.0 315.5,375.0 Z" fill="none" stroke="#e2bd45" stroke-width="2.3" stroke-linejoin="round"/>
<g transform="translate(307.7,393.5) scale(1.0,1.0)">
<clipPath id="cr4"><path d="M0.6,27 C0.8,15 8,5 22,3 C30,1.5 38,0.3 45,0.3 C56,0.3 66,3 70.5,6.5 C73,8.5 73.5,11 73.5,14 L73.3,50 C73.3,55 70,59 63,60.8 C56,62 46,63 40.5,64.5 C33,67 27,71 22,75.5 C18,79 12,83 7.5,83 C5,83 4,81 3.5,78 C2,70 1.2,60 0.8,50 Z"/></clipPath><clipPath id="cl4"><path d="M78,8 C78,6.5 79,5.8 80.5,5.8 L124,5.8 C131,6 134.5,10 133.6,14.5 C132,20 126,25 118,31 C110,38 100,46 90,50.5 C86,52 82,52 79.5,51.6 C78.5,51.4 78,50.5 78,49 Z"/></clipPath>
<ellipse cx="32" cy="71" rx="8" ry="7" fill="url(#gbg)" stroke="#000" stroke-opacity="0.15" stroke-width="1"/>
<path d="M75.6,6 C76.2,20 76.2,40 76,58" stroke="#ad5351" stroke-width="5" fill="none" stroke-linecap="round" opacity="0.6"/>
<path d="M75.6,6 C76.2,20 76.2,40 76,58" stroke="#eed8bb" stroke-width="3" fill="none" stroke-linecap="round"/>
<path d="M0.6,27 C0.8,15 8,5 22,3 C30,1.5 38,0.3 45,0.3 C56,0.3 66,3 70.5,6.5 C73,8.5 73.5,11 73.5,14 L73.3,50 C73.3,55 70,59 63,60.8 C56,62 46,63 40.5,64.5 C33,67 27,71 22,75.5 C18,79 12,83 7.5,83 C5,83 4,81 3.5,78 C2,70 1.2,60 0.8,50 Z" fill="#924545"/><path d="M78,8 C78,6.5 79,5.8 80.5,5.8 L124,5.8 C131,6 134.5,10 133.6,14.5 C132,20 126,25 118,31 C110,38 100,46 90,50.5 C86,52 82,52 79.5,51.6 C78.5,51.4 78,50.5 78,49 Z" fill="#924545"/>
<g clip-path="url(#cr4)"><path d="M0.6,27 C0.8,15 8,5 22,3 C30,1.5 38,0.3 45,0.3 C56,0.3 66,3 70.5,6.5 C73,8.5 73.5,11 73.5,14 L73.3,50 C73.3,55 70,59 63,60.8 C56,62 46,63 40.5,64.5 C33,67 27,71 22,75.5 C18,79 12,83 7.5,83 C5,83 4,81 3.5,78 C2,70 1.2,60 0.8,50 Z" fill="#ad5351" transform="translate(1.2,-4.5)"/><path d="M16,14 C28,6 45,5 55,6" stroke="#cf8480" stroke-width="5" fill="none" stroke-linecap="round" opacity="0.55" filter="url(#blur)"/></g>
<g clip-path="url(#cl4)"><path d="M78,8 C78,6.5 79,5.8 80.5,5.8 L124,5.8 C131,6 134.5,10 133.6,14.5 C132,20 126,25 118,31 C110,38 100,46 90,50.5 C86,52 82,52 79.5,51.6 C78.5,51.4 78,50.5 78,49 Z" fill="#ad5351" transform="translate(0.5,-3.5)"/><path d="M100,10 C110,9.5 118,10 124,12" stroke="#cf8480" stroke-width="3.5" fill="none" stroke-linecap="round" opacity="0.55" filter="url(#blur)"/></g>
<path d="M0.6,27 C0.8,15 8,5 22,3 C30,1.5 38,0.3 45,0.3 C56,0.3 66,3 70.5,6.5 C73,8.5 73.5,11 73.5,14 L73.3,50 C73.3,55 70,59 63,60.8 C56,62 46,63 40.5,64.5 C33,67 27,71 22,75.5 C18,79 12,83 7.5,83 C5,83 4,81 3.5,78 C2,70 1.2,60 0.8,50 Z" fill="none" stroke="#924545" stroke-width="1" stroke-opacity="0.6"/><path d="M78,8 C78,6.5 79,5.8 80.5,5.8 L124,5.8 C131,6 134.5,10 133.6,14.5 C132,20 126,25 118,31 C110,38 100,46 90,50.5 C86,52 82,52 79.5,51.6 C78.5,51.4 78,50.5 78,49 Z" fill="none" stroke="#924545" stroke-width="1" stroke-opacity="0.6"/>
<g clip-path="url(#cr4)"><circle cx="6" cy="10" r="15" fill="#dcc070" opacity="0.45" filter="url(#blur)"/></g>

</g>
<path d="M404,385 L404,397" stroke="#1a1a1a" stroke-width="2.8"/>
<circle cx="404" cy="397" r="5" fill="#1a1a1a" stroke="#ffffff" stroke-opacity="0.35" stroke-width="1"/>
<text x="355.9" y="475.5" font-size="14.00" font-weight="bold" fill="#231f20" stroke="#231f20" stroke-width="0.35" textLength="78.2" lengthAdjust="spacingAndGlyphs">Liver injury</text>
<g transform="translate(563.3,394.9) scale(0.838,0.84)">
<clipPath id="cr5"><path d="M0.6,27 C0.8,15 8,5 22,3 C30,1.5 38,0.3 45,0.3 C56,0.3 66,3 70.5,6.5 C73,8.5 73.5,11 73.5,14 L73.3,50 C73.3,55 70,59 63,60.8 C56,62 46,63 40.5,64.5 C33,67 27,71 22,75.5 C18,79 12,83 7.5,83 C5,83 4,81 3.5,78 C2,70 1.2,60 0.8,50 Z"/></clipPath><clipPath id="cl5"><path d="M78,8 C78,6.5 79,5.8 80.5,5.8 L124,5.8 C131,6 134.5,10 133.6,14.5 C132,20 126,25 118,31 C110,38 100,46 90,50.5 C86,52 82,52 79.5,51.6 C78.5,51.4 78,50.5 78,49 Z"/></clipPath>
<ellipse cx="32" cy="71" rx="8" ry="7" fill="#6b7a55" stroke="#000" stroke-opacity="0.15" stroke-width="1"/>
<path d="M75.6,6 C76.2,20 76.2,40 76,58" stroke="#58585a" stroke-width="5" fill="none" stroke-linecap="round" opacity="0.6"/>
<path d="M75.6,6 C76.2,20 76.2,40 76,58" stroke="#ecdcb0" stroke-width="3" fill="none" stroke-linecap="round"/>
<path d="M0.6,27 C0.8,15 8,5 22,3 C30,1.5 38,0.3 45,0.3 C56,0.3 66,3 70.5,6.5 C73,8.5 73.5,11 73.5,14 L73.3,50 C73.3,55 70,59 63,60.8 C56,62 46,63 40.5,64.5 C33,67 27,71 22,75.5 C18,79 12,83 7.5,83 C5,83 4,81 3.5,78 C2,70 1.2,60 0.8,50 Z" fill="#47474a"/><path d="M78,8 C78,6.5 79,5.8 80.5,5.8 L124,5.8 C131,6 134.5,10 133.6,14.5 C132,20 126,25 118,31 C110,38 100,46 90,50.5 C86,52 82,52 79.5,51.6 C78.5,51.4 78,50.5 78,49 Z" fill="#47474a"/>
<g clip-path="url(#cr5)"><path d="M0.6,27 C0.8,15 8,5 22,3 C30,1.5 38,0.3 45,0.3 C56,0.3 66,3 70.5,6.5 C73,8.5 73.5,11 73.5,14 L73.3,50 C73.3,55 70,59 63,60.8 C56,62 46,63 40.5,64.5 C33,67 27,71 22,75.5 C18,79 12,83 7.5,83 C5,83 4,81 3.5,78 C2,70 1.2,60 0.8,50 Z" fill="#58585a" transform="translate(1.2,-4.5)"/><path d="M16,14 C28,6 45,5 55,6" stroke="#7a7a7c" stroke-width="5" fill="none" stroke-linecap="round" opacity="0.55" filter="url(#blur)"/></g>
<g clip-path="url(#cl5)"><path d="M78,8 C78,6.5 79,5.8 80.5,5.8 L124,5.8 C131,6 134.5,10 133.6,14.5 C132,20 126,25 118,31 C110,38 100,46 90,50.5 C86,52 82,52 79.5,51.6 C78.5,51.4 78,50.5 78,49 Z" fill="#58585a" transform="translate(0.5,-3.5)"/><path d="M100,10 C110,9.5 118,10 124,12" stroke="#7a7a7c" stroke-width="3.5" fill="none" stroke-linecap="round" opacity="0.55" filter="url(#blur)"/></g>
<path d="M0.6,27 C0.8,15 8,5 22,3 C30,1.5 38,0.3 45,0.3 C56,0.3 66,3 70.5,6.5 C73,8.5 73.5,11 73.5,14 L73.3,50 C73.3,55 70,59 63,60.8 C56,62 46,63 40.5,64.5 C33,67 27,71 22,75.5 C18,79 12,83 7.5,83 C5,83 4,81 3.5,78 C2,70 1.2,60 0.8,50 Z" fill="none" stroke="#47474a" stroke-width="1" stroke-opacity="0.6"/><path d="M78,8 C78,6.5 79,5.8 80.5,5.8 L124,5.8 C131,6 134.5,10 133.6,14.5 C132,20 126,25 118,31 C110,38 100,46 90,50.5 C86,52 82,52 79.5,51.6 C78.5,51.4 78,50.5 78,49 Z" fill="none" stroke="#47474a" stroke-width="1" stroke-opacity="0.6"/>


</g>
<circle cx="571.2" cy="407.4" r="12.8" fill="#ffffff" opacity="0.8"/>
<circle cx="571.2" cy="407.4" r="11.3" fill="#4ba3a3"/>
<text x="571.2" y="412.0" font-size="13" font-weight="bold" fill="#ffffff" text-anchor="middle">5</text>
<text x="606.4" y="471.8" font-size="14.00" font-weight="bold" fill="#231f20" stroke="#231f20" stroke-width="0.35" textLength="81.5" lengthAdjust="spacingAndGlyphs">Liver failure</text>
<text x="524.6" y="495.7" font-size="9.20" font-weight="normal" fill="#2e2e2e" stroke="#2e2e2e" stroke-width="0.15" textLength="188.7" lengthAdjust="spacingAndGlyphs">ASH, alcoholic steatohepatitis; HBV, hepatitis B</text>
<text x="524.6" y="508.5" font-size="9.20" font-weight="normal" fill="#2e2e2e" stroke="#2e2e2e" stroke-width="0.15" textLength="187.8" lengthAdjust="spacingAndGlyphs">virus; HCV, hepatitis C virus; MASLD, metabolic</text>
<text x="524.6" y="522.7" font-size="9.20" font-weight="normal" fill="#2e2e2e" stroke="#2e2e2e" stroke-width="0.15" textLength="186.8" lengthAdjust="spacingAndGlyphs">dysfunction-associated steatotic liver disease;</text>
<text x="524.6" y="535.5" font-size="9.20" font-weight="normal" fill="#2e2e2e" stroke="#2e2e2e" stroke-width="0.15" textLength="165.8" lengthAdjust="spacingAndGlyphs">MASH, Metabolic dysfunction-associated</text>
<text x="524.6" y="549.8" font-size="9.20" font-weight="normal" fill="#2e2e2e" stroke="#2e2e2e" stroke-width="0.15" textLength="61.4" lengthAdjust="spacingAndGlyphs">steatohepatitis.</text>
<rect x="4.5" y="347" width="222" height="50.5" fill="#ebebeb"/>
<rect x="4.5" y="408.6" width="222" height="121" fill="#ebebeb"/>
<g transform="translate(34.4,373) rotate(-44)"><path d="M0,-10 L-13.5,-10 A10,10 0 0 0 -13.5,10 L0,10 Z" fill="#ffffff"/><path d="M0,-10 L13.5,-10 A10,10 0 0 1 13.5,10 L0,10 Z" fill="#d9bd62"/><rect x="-23.5" y="-10" width="47" height="20" rx="10" fill="none" stroke="#231f20" stroke-width="2.3"/><path d="M0,-10 L0,10" stroke="#231f20" stroke-width="2"/></g>
<text x="66.1" y="378.7" font-size="13.60" font-weight="bold" fill="#231f20" stroke="#231f20" stroke-width="0.35" textLength="109.5" lengthAdjust="spacingAndGlyphs">Medicines /toxins</text>
<path d="M19,424 L35,418.5 L52,424 L52,438 C52,448 45,453 35,457 C25,453 19,448 19,438 Z" fill="#d8be66" stroke="#2f2a1e" stroke-width="2"/><path d="M22,426 L35.5,421.5 L49,426 L49,438 C49,446 43,450 35.5,454 C28,450 22,446 22,438 Z" fill="#dcc36c"/><circle cx="44" cy="420" r="2.6" fill="#efe3b0" opacity="0.9"/><circle cx="17.5" cy="434" r="2.6" fill="#efe3b0" opacity="0.9"/><circle cx="47" cy="450" r="2.4" fill="#efe3b0" opacity="0.9"/>
<polygon points="35.5,428.0 38.2,433.8 44.5,434.6 39.9,438.9 41.1,445.2 35.5,442.1 29.9,445.2 31.1,438.9 26.5,434.6 32.8,433.8" fill="#ffffff" stroke="#fbf6dc" stroke-width="1.2" stroke-linejoin="round"/>
<text x="66.1" y="426.1" font-size="13.60" font-weight="bold" fill="#231f20" stroke="#231f20" stroke-width="0.35" textLength="138.8" lengthAdjust="spacingAndGlyphs">Infection and immune</text>
<text x="66.1" y="442.4" font-size="13.60" font-weight="bold" fill="#231f20" stroke="#231f20" stroke-width="0.35" textLength="75.3" lengthAdjust="spacingAndGlyphs">dysfunction</text>
<rect x="66" y="452.9" width="6" height="6" fill="#e2dab4"/>
<text x="79.8" y="459.7" font-size="11.90" font-weight="normal" fill="#3a3a3a" stroke="#3a3a3a" stroke-width="0.2" textLength="72.1" lengthAdjust="spacingAndGlyphs">HBV infection</text>
<rect x="66" y="469.8" width="6" height="6" fill="#e2dab4"/>
<text x="79.8" y="476.6" font-size="11.90" font-weight="normal" fill="#3a3a3a" stroke="#3a3a3a" stroke-width="0.2" textLength="72.1" lengthAdjust="spacingAndGlyphs">HCV infection</text>
<rect x="66" y="486.4" width="6" height="6" fill="#e2dab4"/>
<text x="79.8" y="493.2" font-size="11.90" font-weight="normal" fill="#3a3a3a" stroke="#3a3a3a" stroke-width="0.2" textLength="136.6" lengthAdjust="spacingAndGlyphs">Primary biliary cholangitis</text>
<rect x="66" y="503.0" width="6" height="6" fill="#e2dab4"/>
<text x="79.8" y="509.8" font-size="11.90" font-weight="normal" fill="#3a3a3a" stroke="#3a3a3a" stroke-width="0.2" textLength="96.5" lengthAdjust="spacingAndGlyphs">Primary sclerosing</text>
<text x="79.8" y="525.5" font-size="11.90" font-weight="normal" fill="#3a3a3a" stroke="#3a3a3a" stroke-width="0.2" textLength="59.1" lengthAdjust="spacingAndGlyphs">cholangitis</text>
<rect x="15" y="544.3" width="481" height="10.3" fill="url(#bar)"/>
<path d="M5,549.5 L21,537.5 L17,549.5 L21,562 Z" fill="#c6e1df"/>
<circle cx="496.3" cy="549.6" r="9.4" fill="#3a9c96"/>
<text x="410.3" y="534.6" font-size="14.00" font-weight="bold" fill="#231f20" stroke="#231f20" stroke-width="0.35" textLength="71.6" lengthAdjust="spacingAndGlyphs">Reversible</text>
</svg></body></html>
